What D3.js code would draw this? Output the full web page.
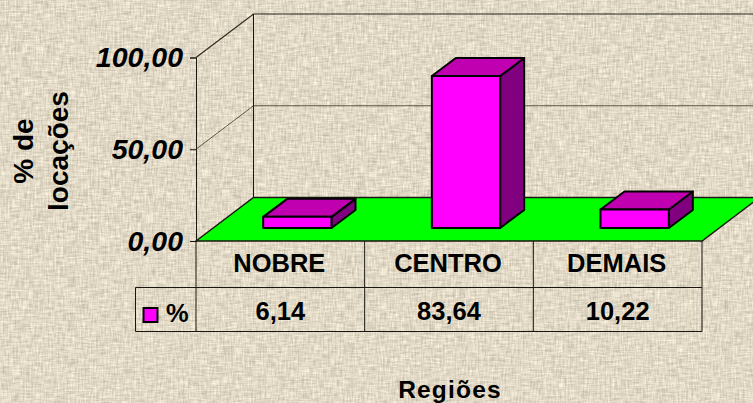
<!DOCTYPE html>
<html>
<head>
<meta charset="utf-8">
<title>Regiões</title>
<script src="https://d3js.org/d3.v7.min.js"></script>
<style>
  html, body { margin: 0; padding: 0; background: #e0d8c4; overflow: hidden; }
  svg { display: block; }
  text { font-family: "Liberation Sans", Arial, sans-serif; font-weight: bold; fill: #000; }
</style>
</head>
<body>
<div id="chart"></div>
<script>
// data
var categories = ["NOBRE", "CENTRO", "DEMAIS"];
var values = [6.14, 83.64, 10.22];
var yTicks = [0, 50, 100];
var seriesName = "%";
var yTitle = ["% de", "locações"];
var xTitle = "Regiões";

var width = 753, height = 403;
var plotLeft = 196, plotRight = 702, plotBottom = 241, plotTop = 57.5;
var depthX = 57.5, depthY = 43.5;      // offset of the back wall
var rowBottom1 = 287.5, rowBottom2 = 331.5, tableLeft = 135.5;

var svg = d3.select("#chart").append("svg")
    .attr("width", width)
    .attr("height", height);

// linen background: horizontal and vertical streaks
var opaque = "1 0 0 0 0  0 1 0 0 0  0 0 1 0 0  0 0 0 0 1";
var f = svg.append("defs").append("filter").attr("id", "linen")
    .attr("x", 0).attr("y", 0).attr("width", "100%").attr("height", "100%")
    .attr("color-interpolation-filters", "sRGB");
f.append("feTurbulence").attr("type", "fractalNoise").attr("baseFrequency", "0.6 0.09")
    .attr("numOctaves", 2).attr("seed", 4).attr("result", "a0");
f.append("feColorMatrix").attr("in", "a0").attr("type", "matrix").attr("values", opaque).attr("result", "a");
f.append("feTurbulence").attr("type", "fractalNoise").attr("baseFrequency", "0.09 0.6")
    .attr("numOctaves", 2).attr("seed", 9).attr("result", "b0");
f.append("feColorMatrix").attr("in", "b0").attr("type", "matrix").attr("values", opaque).attr("result", "b");
f.append("feComposite").attr("in", "a").attr("in2", "b").attr("operator", "arithmetic")
    .attr("k1", 0).attr("k2", 0.5).attr("k3", 0.5).attr("k4", 0).attr("result", "n");
f.append("feColorMatrix").attr("in", "n").attr("type", "matrix")
    .attr("values", "0.45 0 0 0 0.657  0.45 0 0 0 0.626  0.45 0 0 0 0.548  0 0 0 0 1");

svg.append("rect").attr("width", width).attr("height", height)
    .attr("fill", "#e0d8c4").attr("filter", "url(#linen)");

var x = d3.scaleBand().domain(categories).range([plotLeft, plotRight]);
var y = d3.scaleLinear().domain([0, 100]).range([plotBottom, plotTop]);
var fmt = d3.formatLocale({ decimal: ",", thousands: ".", grouping: [3], currency: ["", ""] }).format(".2f");

var ink = "#1a1712";

// floor
svg.append("path")
    .attr("d", d3.line()([
        [plotLeft, y(0)], [plotLeft + depthX, y(0) - depthY],
        [plotRight + depthX, y(0) - depthY], [plotRight, y(0)]
    ]) + "Z")
    .attr("fill", "#00ff00").attr("stroke", ink).attr("stroke-width", 1.5);

// gridlines on the walls
var grid = svg.append("g").attr("fill", "none").attr("stroke", ink);
yTicks.filter(function(d) { return d > 0; }).forEach(function(d) {
    grid.append("path")
        .attr("stroke-width", d === 50 ? 1 : 1.2)
        .attr("stroke", d === 50 ? "#5c5546" : "#2b2720")
        .attr("d", d3.line()([
            [plotLeft, y(d)], [plotLeft + depthX, y(d) - depthY], [plotRight + depthX, y(d) - depthY]
        ]));
});
grid.append("line")
    .attr("x1", plotLeft + depthX).attr("x2", plotLeft + depthX)
    .attr("y1", y(100) - depthY).attr("y2", y(0) - depthY);

// y axis
var yAxis = svg.append("g")
    .attr("transform", "translate(" + plotLeft + ",0)")
    .call(d3.axisLeft(y).tickValues(yTicks).tickSize(6).tickPadding(7).tickFormat(fmt));
yAxis.selectAll("path, line").attr("stroke", ink);
yAxis.selectAll("text")
    .style("font-size", "28.5px").style("font-style", "italic")
    .attr("fill", "#000");

// bars
var barWidth = x.bandwidth() * 0.405;
var barLift = 13, barShift = 17, barDepthX = 24, barDepthY = 18, barScale = 0.99;
var bars = svg.append("g").selectAll("g").data(values).enter().append("g")
    .attr("stroke", "#000").attr("stroke-width", 2).attr("stroke-linejoin", "round");

function barLeft(d, i) { return x(categories[i]) + x.bandwidth() / 2 - barWidth / 2 + barShift; }
function barBase() { return y(0) - barLift; }
function barTop(d) { return barBase() - (y(0) - y(d)) * barScale; }

bars.append("path").attr("fill", "#800080").attr("d", function(d, i) {
    var r = barLeft(d, i) + barWidth, t = barTop(d), b = barBase();
    return d3.line()([[r, t], [r + barDepthX, t - barDepthY], [r + barDepthX, b - barDepthY], [r, b]]) + "Z";
});
bars.append("path").attr("fill", "#c000b0").attr("d", function(d, i) {
    var l = barLeft(d, i), t = barTop(d);
    return d3.line()([[l, t], [l + barDepthX, t - barDepthY], [l + barWidth + barDepthX, t - barDepthY], [l + barWidth, t]]) + "Z";
});
bars.append("rect").attr("fill", "#ff00ff")
    .attr("x", barLeft).attr("y", barTop)
    .attr("width", barWidth)
    .attr("height", function(d) { return barBase() - barTop(d); });

// data table
var table = svg.append("g").attr("stroke", ink).attr("stroke-width", 1).attr("fill", "none");
table.append("line").attr("x1", tableLeft).attr("x2", plotRight).attr("y1", rowBottom1).attr("y2", rowBottom1);
table.append("line").attr("x1", tableLeft).attr("x2", plotRight).attr("y1", rowBottom2).attr("y2", rowBottom2);
table.append("line").attr("x1", tableLeft).attr("x2", tableLeft).attr("y1", rowBottom1).attr("y2", rowBottom2);
categories.concat(["end"]).forEach(function(c, i) {
    var px = i < categories.length ? x(c) : plotRight;
    table.append("line").attr("x1", px).attr("x2", px).attr("y1", y(0)).attr("y2", rowBottom2);
});

svg.append("g").selectAll("text").data(categories).enter().append("text")
    .attr("x", function(d) { return x(d) + x.bandwidth() / 2 - 1; })
    .attr("y", 272).attr("text-anchor", "middle").style("font-size", "25.5px")
    .text(function(d) { return d; });

svg.append("g").selectAll("text").data(values).enter().append("text")
    .attr("x", function(d, i) { return x(categories[i]) + x.bandwidth() / 2; })
    .attr("y", 320).attr("text-anchor", "middle").style("font-size", "25.5px")
    .text(function(d) { return fmt(d); });

// legend key
svg.append("rect").attr("x", 143.5).attr("y", 308)
    .attr("width", 14).attr("height", 14)
    .attr("fill", "#ff00ff").attr("stroke", "#000").attr("stroke-width", 2);
svg.append("text").attr("x", 166).attr("y", 322).style("font-size", "25.5px").text(seriesName);

// axis titles
var yt = svg.append("g").attr("transform", "translate(0,151) rotate(-90)");
yTitle.forEach(function(s, i) {
    yt.append("text").attr("x", 0).attr("y", 33 + i * 35)
        .attr("text-anchor", "middle").style("font-size", "28px").text(s);
});
svg.append("text").attr("x", 450).attr("y", 398)
    .attr("text-anchor", "middle").style("font-size", "24.5px").style("letter-spacing", "1.2px").text(xTitle);
</script>
</body>
</html>
